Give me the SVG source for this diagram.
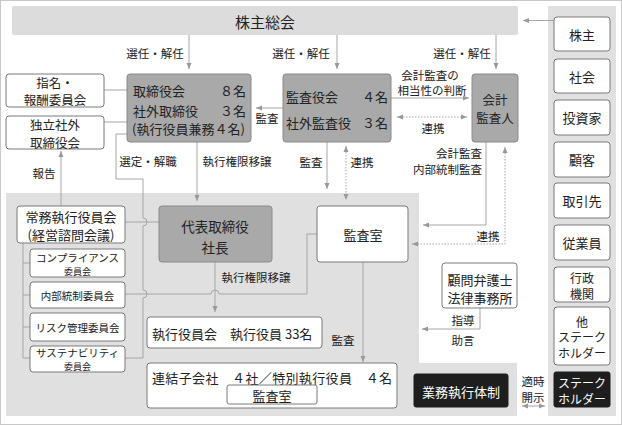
<svg xmlns="http://www.w3.org/2000/svg" width="622" height="425" viewBox="0 0 622 425">
<style>
text{font-family:"Noto Sans CJK JP","Noto Sans",sans-serif;fill:#222;dominant-baseline:central}
.t13{font-size:13px}
.t125{font-size:12.5px}
.t12{font-size:12px}
.t14{font-size:13.5px}
.lb{font-size:11.5px}
.c{text-anchor:middle}
.e{text-anchor:end}
.cm{font-size:10.5px}
.cs{font-size:9px}
.wbox{fill:#fff;stroke:#7a7a7a;stroke-width:1}
.dbox{fill:#a9a9a9;stroke:#8a8a8a;stroke-width:1}
.bbox{fill:#1e1e1e;stroke:#1e1e1e}
.wt{fill:#fff}
.ln{fill:none;stroke:#a6a6a6;stroke-width:1}
.dt{fill:none;stroke:#a6a6a6;stroke-width:1;stroke-dasharray:1.5 1.5}
.ar{marker-end:url(#ah)}
.ab{marker-start:url(#ah);marker-end:url(#ah)}
</style>
<defs>
<marker id="ah" viewBox="0 0 6 6" refX="6" refY="3" markerWidth="6" markerHeight="6" markerUnits="userSpaceOnUse" orient="auto-start-reverse">
<path d="M0,0.5 L6,3 L0,5.5 z" fill="#999"/>
</marker>
</defs>
<rect x="0.5" y="0.5" width="621" height="424" fill="#fff" stroke="#c8c8c8"/>
<g id="panels">
<rect x="548" y="6" width="68" height="410" fill="#e0e0e0"/>
<path d="M6,193 H419 V363 H517 V416 H6 Z" fill="#e0e0e0"/>
</g>
<g id="connectors">
<path class="ln ar" d="M554,20.5 H523"/>
<path class="ln ar" d="M189,35 V69"/>
<path class="ln ar" d="M337,35 V69"/>
<path class="ln ar" d="M496,35 V69"/>
<path class="ln ar" d="M283,108 H256"/>
<path class="ln ar" d="M391,98 H469"/>
<path class="dt ab" d="M397,117 H467"/>
<path class="ln" d="M104,90 H127"/>
<path class="ln" d="M104,122 H127"/>
<path class="ln ar" d="M61,206 V151"/>
<path class="ln" d="M127,134 H116 V179 H143 V218 A4,4 0 0 1 143,226 V290 A4,4 0 0 1 143,298 V358 H125"/>
<path class="ln" d="M125,222 H159"/>
<path class="ln" d="M317,234 H307 V294 H219 A4,4 0 0 0 211,294 H125"/>
<path class="ln ar" d="M197,142 V201"/>
<path class="ln ar" d="M327,142 V189"/>
<path class="dt ab" d="M346,146 V200"/>
<path class="ln ar" d="M486,142 V225 H423"/>
<path class="dt ab" d="M505,147 V244 H412"/>
<path class="ln" d="M23,243 V358 H30 M23,263 H30 M23,295 H30 M23,327 H30"/>
<path class="ln ar" d="M215,262 V312"/>
<path class="ln ar" d="M363,262 V362"/>
<path class="ln ar" d="M480,308 V329 H422"/>
<path class="ln ab" d="M522,406 H545"/>
</g>
<g id="labels">
<text class="lb c" x="155" y="53">選任・解任</text>
<text class="lb c" x="301" y="53">選任・解任</text>
<text class="lb c" x="462" y="53">選任・解任</text>
<text class="lb c" x="267" y="118">監査</text>
<text class="lb c"><tspan x="430" y="75">会計監査の</tspan><tspan x="432" y="90">相当性の判断</tspan></text>
<text class="lb c" x="433" y="128">連携</text>
<text class="lb c" x="44" y="173">報告</text>
<text class="lb c" x="148" y="161">選定・解職</text>
<text class="lb c" x="237" y="161">執行権限移譲</text>
<text class="lb c" x="311" y="162">監査</text>
<text class="lb c" x="362" y="162">連携</text>
<text class="lb e"><tspan x="482" y="152.5">会計監査</tspan><tspan x="482" y="168.5">内部統制監査</tspan></text>
<text class="lb c" x="488" y="236">連携</text>
<text class="lb c" x="256" y="277">執行権限移譲</text>
<text class="lb c" x="343" y="340">監査</text>
<text class="lb c" x="463" y="320">指導</text>
<text class="lb c" x="463" y="340">助言</text>
<text class="lb c"><tspan x="533" y="381">適時</tspan><tspan x="533" y="396.5">開示</tspan></text>
</g>
<g id="n-soukai">
<rect x="12" y="6" width="506" height="29" rx="2" fill="#dcdcdc"/>
<text class="c" x="265" y="21" style="font-size:15px">株主総会</text>
</g>
<g id="n-torishimariyaku">
<rect class="dbox" x="127" y="74" width="124" height="68" rx="3"/>
<text class="t13"><tspan x="133" y="90">取締役会</tspan><tspan x="246" y="90" style="text-anchor:end">８名</tspan><tspan x="133" y="110">社外取締役</tspan><tspan x="246" y="110" style="text-anchor:end">３名</tspan><tspan x="132" y="128">(執行役員兼務４名)</tspan></text>
</g>
<g id="n-kansayaku">
<rect class="dbox" x="283" y="74" width="108" height="68" rx="3"/>
<text class="t13"><tspan x="286" y="96">監査役会</tspan><tspan x="388" y="96" style="text-anchor:end">４名</tspan><tspan x="286" y="122">社外監査役</tspan><tspan x="388" y="122" style="text-anchor:end">３名</tspan></text>
</g>
<g id="n-kaikei">
<rect class="dbox" x="472" y="74" width="46" height="68" rx="3"/>
<text class="t125 c"><tspan x="495" y="99">会計</tspan><tspan x="495" y="116.5">監査人</tspan></text>
</g>
<g id="n-shimei">
<rect class="wbox" x="6" y="74" width="98" height="33" rx="3"/>
<text class="t125 c"><tspan x="55" y="81.75">指名・</tspan><tspan x="55" y="99.25">報酬委員会</tspan></text>
</g>
<g id="n-dokuritsu">
<rect class="wbox" x="6" y="116" width="98" height="33" rx="3"/>
<text class="t125 c"><tspan x="55" y="124">独立社外</tspan><tspan x="55" y="141.5">取締役会</tspan></text>
</g>
<g id="n-joumu">
<rect class="wbox" x="17" y="206" width="108" height="37" rx="3"/>
<text class="t13 c"><tspan x="71" y="215.5">常務執行役員会</tspan><tspan x="71" y="233.5">(経営諮問会議)</tspan></text>
</g>
<g id="n-compliance">
<rect class="wbox" x="30" y="249" width="95" height="28" rx="3"/>
<text class="cm c"><tspan x="77.5" y="257">コンプライアンス</tspan><tspan class="cs" x="77.5" y="270.5">委員会</tspan></text>
</g>
<g id="n-naibu">
<rect class="wbox" x="30" y="282" width="95" height="26" rx="3"/>
<text class="cm c" x="77.5" y="295.5">内部統制委員会</text>
</g>
<g id="n-risk">
<rect class="wbox" x="30" y="313" width="95" height="28" rx="3"/>
<text class="cm c" x="77.5" y="327">リスク管理委員会</text>
</g>
<g id="n-sustain">
<rect class="wbox" x="30" y="346" width="95" height="26" rx="3"/>
<text class="cm c"><tspan x="77.5" y="352">サステナビリティ</tspan><tspan class="cs" x="77.5" y="365.5">委員会</tspan></text>
</g>
<g id="n-daihyo">
<rect class="dbox" x="159" y="206" width="113" height="56" rx="3"/>
<text class="t14 c"><tspan x="215" y="226">代表取締役</tspan><tspan x="215" y="247">社長</tspan></text>
</g>
<g id="n-kansashitsu">
<rect class="wbox" x="317" y="206" width="91" height="56" rx="3"/>
<text class="t13 c" x="363" y="234">監査室</text>
</g>
<g id="n-shikko">
<rect class="wbox" x="147" y="317" width="175" height="31" rx="3"/>
<text class="t13" x="152" y="333">執行役員会　執行役員 33名</text>
</g>
<g id="n-renketsu">
<rect class="wbox" x="147" y="363" width="250" height="45" rx="3"/>
<text class="t13" x="152" y="377" textLength="240" lengthAdjust="spacing">連結子会社　４社／特別執行役員　４名</text>
<rect class="wbox" x="227" y="385" width="90" height="19" rx="2"/>
<text class="t13 c" x="272" y="395">監査室</text>
</g>
<g id="n-komon">
<rect class="wbox" x="442" y="263" width="75" height="45" rx="3"/>
<text class="t13 c"><tspan x="480" y="279">顧問弁護士</tspan><tspan x="480" y="297">法律事務所</tspan></text>
</g>
<g id="n-gyomu">
<rect class="bbox" x="414" y="374" width="94" height="33" rx="2"/>
<text class="t13 c wt" x="461" y="391">業務執行体制</text>
</g>
<g id="n-kabunushi"><rect class="wbox" x="554" y="17" width="56" height="34" rx="3"/><text class="t13 c" x="582" y="34">株主</text></g>
<g id="n-shakai"><rect class="wbox" x="554" y="59" width="56" height="34" rx="3"/><text class="t13 c" x="582" y="76">社会</text></g>
<g id="n-toushika"><rect class="wbox" x="554" y="100" width="56" height="35" rx="3"/><text class="t13 c" x="582" y="117.5">投資家</text></g>
<g id="n-kokyaku"><rect class="wbox" x="554" y="142" width="56" height="35" rx="3"/><text class="t13 c" x="582" y="159.5">顧客</text></g>
<g id="n-torihiki"><rect class="wbox" x="554" y="183" width="56" height="35" rx="3"/><text class="t13 c" x="582" y="200.5">取引先</text></g>
<g id="n-jugyoin"><rect class="wbox" x="554" y="225" width="56" height="35" rx="3"/><text class="t13 c" x="582" y="242.5">従業員</text></g>
<g id="n-gyosei"><rect class="wbox" x="554" y="267" width="56" height="35" rx="3"/><text class="t12 c"><tspan x="582" y="276.5">行政</tspan><tspan x="582" y="292.5">機関</tspan></text></g>
<g id="n-hoka"><rect class="wbox" x="554" y="307" width="56" height="58" rx="3"/><text class="t12 c"><tspan x="582" y="320.5">他</tspan><tspan x="582" y="336">ステーク</tspan><tspan x="582" y="351.5">ホルダー</tspan></text></g>
<g id="n-stake"><rect class="bbox" x="554" y="372" width="56" height="35" rx="2"/><text class="t12 c wt"><tspan x="582" y="381.5">ステーク</tspan><tspan x="582" y="397.5">ホルダー</tspan></text></g>
</svg>
